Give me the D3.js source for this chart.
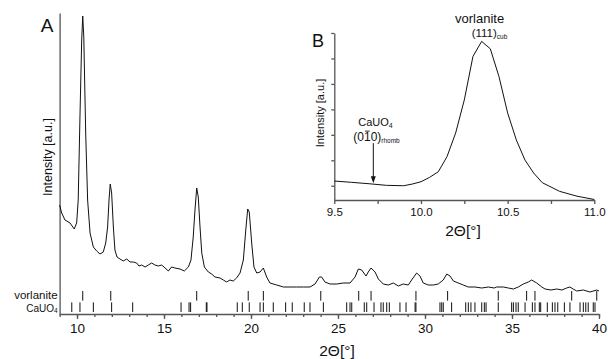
<!DOCTYPE html>
<html>
<head>
<meta charset="utf-8">
<script src="https://cdn.jsdelivr.net/npm/d3@7"></script>
<style>
  body { margin: 0; background: #fff; }
  svg text { font-family: 'Liberation Sans', Arial, sans-serif; fill: #111; }
  .axis path, .axis line { stroke: #555; stroke-width: 1.3; }
  .axis text { font-family: 'Liberation Sans', Arial, sans-serif; fill: #111; }
</style>
</head>
<body>
<svg id="chart" width="608" height="359"></svg>
<script>
// panel A: full scan, [2theta, intensity a.u.]
const scanA = [
  [9.00,108],[9.12,100],[9.31,93],[9.60,90],[9.84,84],[9.98,90],[10.07,113],[10.17,196],
  [10.27,273],[10.33,297],[10.39,276],[10.50,180],[10.61,113],[10.75,80],[10.94,66],[11.13,62],
  [11.32,59],[11.51,61],[11.65,70],[11.76,86],[11.84,113],[11.91,129],[11.99,120],[12.09,86],
  [12.18,63],[12.30,56],[12.47,54],[12.66,52],[12.86,54],[13.05,51],[13.24,51],[13.43,50],
  [13.56,47],[13.72,48],[13.91,46],[14.10,48],[14.29,50],[14.48,48],[14.67,47],[14.87,48],
  [15.06,45],[15.25,42],[15.44,46],[15.63,45],[15.92,44],[16.17,42],[16.40,46],[16.55,53],
  [16.68,76],[16.78,103],[16.88,125],[16.97,116],[17.07,86],[17.17,60],[17.32,46],[17.55,41],
  [17.74,39],[17.93,36],[18.22,35],[18.41,33],[18.60,31],[18.79,33],[18.98,32],[19.17,35],
  [19.37,40],[19.56,53],[19.70,83],[19.81,104],[19.90,101],[20.04,70],[20.17,46],[20.33,40],
  [20.52,41],[20.71,45],[20.90,36],[21.09,30],[21.48,28],[21.86,26],[22.24,26],[22.63,26],
  [23.01,26],[23.39,26],[23.68,29],[23.93,36],[24.06,36],[24.25,31],[24.54,29],[24.93,29],
  [25.30,30],[25.69,30],[25.98,36],[26.17,44],[26.36,43],[26.61,37],[26.74,41],[26.90,45],
  [27.13,41],[27.32,34],[27.60,29],[27.89,28],[28.18,30],[28.47,27],[28.75,29],[29.04,28],
  [29.27,34],[29.52,40],[29.71,37],[29.90,30],[30.19,28],[30.48,28],[30.76,29],[31.05,33],
  [31.25,39],[31.44,37],[31.63,32],[31.91,30],[32.20,28],[32.49,26],[32.87,26],[33.26,25],
  [33.64,26],[33.98,25],[34.12,26],[34.50,26],[34.79,25],[35.08,24],[35.36,26],[35.65,29],
  [35.94,31],[36.13,33],[36.42,30],[36.71,26],[36.90,24],[37.24,23],[37.57,24],[37.87,23],
  [38.14,25],[38.33,26],[38.51,24],[38.72,22],[39.10,23],[39.48,21],[39.87,23],[40.00,22]
];

// reference reflection positions (2theta)
const vorlanitePeaks = [10.33, 11.94, 16.88, 19.84, 20.71, 24.01, 26.19, 26.90, 29.48, 31.30,
  34.21, 35.84, 36.32, 38.43, 39.87];
const cauo4Peaks = [9.70, 10.17, 10.94, 11.99, 13.20, 15.98, 16.44, 16.53, 17.43, 17.47,
  19.21, 19.50, 19.90, 20.52, 20.71, 21.28, 21.99, 22.37, 23.06, 23.39, 24.16, 25.50, 25.69,
  25.79, 26.51, 26.65, 27.07, 27.47, 27.60, 27.80, 27.95, 28.56, 28.91, 29.43, 29.48, 30.86,
  30.96, 31.05, 31.53, 32.34, 32.49, 32.64, 32.87, 33.26, 33.41, 33.51, 34.21, 34.98, 35.08,
  35.23, 35.36, 35.75, 36.17, 36.32, 36.57, 36.65, 37.03, 37.32, 37.47, 37.63, 38.01, 38.33,
  38.91, 39.10, 39.24, 39.38, 39.67, 39.77];
const phaseRows = ['vorlanite', 'CaUO4'];

// panel B: zoom on the (111) reflection
const scanB = [
  [9.50,0.185],[9.60,0.134],[9.70,0.079],[9.80,0.016],[9.90,0.0],[9.95,0.067],[10.00,0.157],
  [10.05,0.33],[10.10,0.55],[10.15,1.14],[10.20,2.07],[10.25,3.37],[10.30,5.08],[10.35,5.67],
  [10.40,5.38],[10.45,4.29],[10.50,2.86],[10.55,1.80],[10.60,1.01],[10.65,0.50],[10.70,0.12],
  [10.80,-0.22],[10.90,-0.41],[11.00,-0.54]
];
const insetXTicks = [9.5, 9.75, 10.0, 10.25, 10.5, 10.75, 11.0];
const insetYTicks = [0, 1, 2, 3, 4, 5, 6];
const cauo4Marker = 9.725;
const vorlaniteMarker = 10.35;

const font = "'Liberation Sans', Arial, sans-serif";
const svg = d3.select('#chart');

// ---------- panel A ----------
const x = d3.scaleLinear().domain([9, 40]).range([59.6, 599]);
const y = d3.scaleLinear().domain([-1, 300]).range([314, 13]);

svg.append('g')
  .attr('class', 'axis')
  .attr('transform', 'translate(0,' + y(-1) + ')')
  .call(d3.axisBottom(x).tickValues(d3.range(9, 41)).tickSize(3).tickSizeOuter(0).tickFormat(''));

svg.append('g')
  .attr('class', 'axis')
  .attr('transform', 'translate(0,' + y(-1) + ')')
  .call(d3.axisBottom(x).tickValues(d3.range(10, 41, 5)).tickSize(5).tickPadding(4).tickSizeOuter(0))
  .call(g => g.select('.domain').remove())
  .selectAll('text').attr('font-size', 13.5).attr('font-family', font);

svg.append('g')
  .attr('class', 'axis')
  .attr('transform', 'translate(' + x(9) + ',0)')
  .call(d3.axisLeft(y).tickValues([]).tickSizeOuter(0));

const line = d3.line().x(d => x(d[0])).y(d => y(d[1]));
svg.append('path')
  .datum(scanA)
  .attr('fill', 'none')
  .attr('stroke', '#111')
  .attr('stroke-width', 1)
  .attr('d', line);

// reflection tick rows
const row = d3.scaleBand().domain(phaseRows).range([291, 312]).paddingInner(0.15);
const rowData = [vorlanitePeaks, cauo4Peaks];
phaseRows.forEach((name, i) => {
  svg.selectAll('.tick-' + i)
    .data(rowData[i])
    .enter().append('line')
    .attr('class', 'tick-' + i)
    .attr('x1', d => x(d)).attr('x2', d => x(d))
    .attr('y1', row(name)).attr('y2', row(name) + row.bandwidth())
    .attr('stroke', '#111')
    .attr('stroke-width', 1);
});

svg.append('text')
  .attr('x', x(9) - 2).attr('y', 299)
  .attr('text-anchor', 'end').attr('font-size', 11.5)
  .text('vorlanite');
const caLabel = svg.append('text')
  .attr('x', x(9) - 2).attr('y', 311.5)
  .attr('text-anchor', 'end').attr('font-size', 10);
caLabel.append('tspan').text('CaUO');
caLabel.append('tspan').attr('font-size', 6.5).attr('dy', 1.5).text('4');

svg.append('text')
  .attr('x', 47).attr('y', 31.5)
  .attr('text-anchor', 'middle').attr('font-size', 19)
  .text('A');

svg.append('text')
  .attr('transform', 'translate(48,157) rotate(-90)')
  .attr('text-anchor', 'middle').attr('dy', '0.35em').attr('font-size', 12.5)
  .text('Intensity [a.u.]');

svg.append('text')
  .attr('x', 337).attr('y', 356)
  .attr('text-anchor', 'middle').attr('font-size', 15.5)
  .text('2\u0398[\u00b0]');

// ---------- panel B (inset) ----------
const xi = d3.scaleLinear().domain([9.5, 11]).range([334.3, 594.3]);
const yi = d3.scaleLinear().domain([-0.56, 6.0]).range([200, 33]);

svg.append('g')
  .attr('class', 'axis')
  .attr('transform', 'translate(0,' + yi(-0.56) + ')')
  .call(d3.axisBottom(xi).tickValues(insetXTicks).tickSize(4).tickPadding(4).tickSizeOuter(0)
    .tickFormat(d => (d * 2) % 1 === 0 ? d3.format('.1f')(d) : ''))
  .selectAll('text').attr('font-size', 11.5).attr('font-family', font);

svg.append('g')
  .attr('class', 'axis')
  .attr('transform', 'translate(' + xi(9.5) + ',0)')
  .call(d3.axisLeft(yi).tickValues(insetYTicks).tickSize(3).tickSizeOuter(0).tickFormat(''));

const lineB = d3.line().x(d => xi(d[0])).y(d => yi(d[1]));
svg.append('path')
  .datum(scanB)
  .attr('fill', 'none')
  .attr('stroke', '#111')
  .attr('stroke-width', 1)
  .attr('d', lineB);

svg.append('text')
  .attr('x', 318).attr('y', 46.5)
  .attr('text-anchor', 'middle').attr('font-size', 18)
  .text('B');

svg.append('text')
  .attr('transform', 'translate(320,113) rotate(-90)')
  .attr('text-anchor', 'middle').attr('dy', '0.35em').attr('font-size', 11)
  .text('Intensity [a.u.]');

svg.append('text')
  .attr('x', 463).attr('y', 236)
  .attr('text-anchor', 'middle').attr('font-size', 15.5)
  .text('2\u0398[\u00b0]');

// vorlanite (111) label over the peak
const peakX = xi(vorlaniteMarker);
svg.append('text')
  .attr('x', peakX - 2).attr('y', 23)
  .attr('text-anchor', 'middle').attr('font-size', 13)
  .text('vorlanite');
const hkl = svg.append('text')
  .attr('x', peakX - 10).attr('y', 36.5)
  .attr('font-size', 11.5);
hkl.append('tspan').text('(111)');
hkl.append('tspan').attr('font-size', 6.5).attr('dy', 2).text('cub');

// CaUO4 (0-10) arrow
const arrowX = xi(cauo4Marker);
const baseAt = d3.scaleLinear().domain(scanB.map(d => d[0])).range(scanB.map(d => d[1]));
const tipY = yi(baseAt(cauo4Marker)) - 1;
const tailY = tipY - 40;
svg.append('line')
  .attr('x1', arrowX).attr('x2', arrowX)
  .attr('y1', tailY).attr('y2', tipY - 5)
  .attr('stroke', '#111').attr('stroke-width', 1);
svg.append('path')
  .attr('d', 'M' + (arrowX - 2.5) + ',' + (tipY - 7) + 'L' + (arrowX + 2.5) + ',' + (tipY - 7) + 'L' + arrowX + ',' + tipY + 'Z')
  .attr('fill', '#111');

const caB = svg.append('text')
  .attr('x', arrowX - 15).attr('y', tailY - 17)
  .attr('font-size', 11);
caB.append('tspan').text('CaUO');
caB.append('tspan').attr('font-size', 7).attr('dy', 2).text('4');

const hklX = arrowX - 20;
const hklY = tailY - 2;
const hklB = svg.append('text')
  .attr('x', hklX).attr('y', hklY)
  .attr('font-size', 12);
hklB.append('tspan').text('(010)');
hklB.append('tspan').attr('font-size', 6.5).attr('dy', 2).text('rhomb');

// bar over the "1" of (0-10)
const hklNode = hklB.node();
const barStart = hklNode.getSubStringLength(0, 2);
const barLen = hklNode.getSubStringLength(2, 1);
svg.append('line')
  .attr('x1', hklX + barStart + 1).attr('x2', hklX + barStart + barLen - 1)
  .attr('y1', hklY - 10).attr('y2', hklY - 10)
  .attr('stroke', '#111').attr('stroke-width', 0.9);
</script>
</body>
</html>
